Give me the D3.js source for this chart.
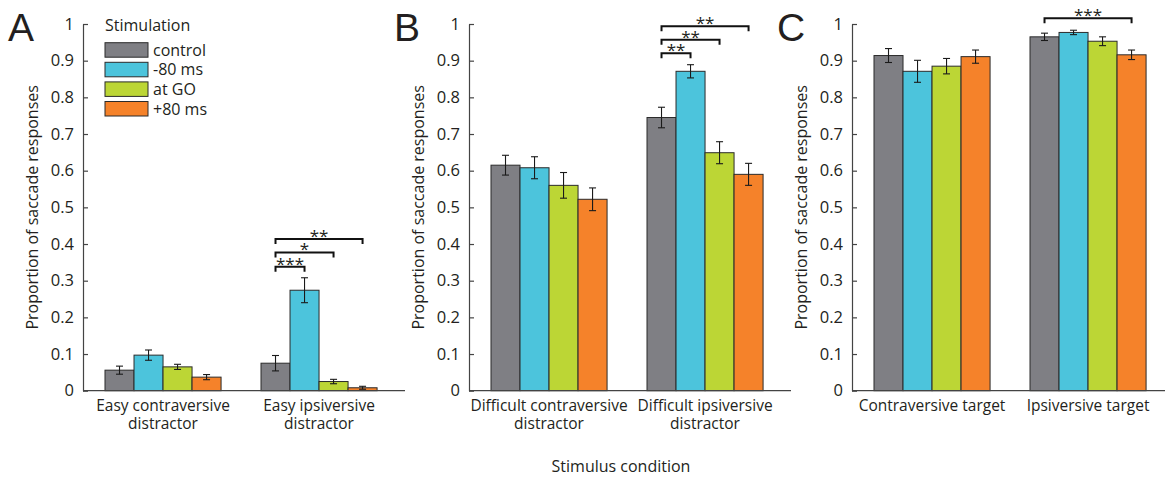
<!DOCTYPE html>
<html>
<head>
<meta charset="utf-8">
<script src="https://cdn.jsdelivr.net/npm/d3@7"></script>
<style>
  html, body { margin: 0; padding: 0; background: #fff; }
  svg { display: block; }
  text { font-family: "Open Sans", "Noto Sans", sans-serif; fill: #231f20; }
</style>
</head>
<body>
<svg id="chart" width="1165" height="478"></svg>
<script>
// Stimulation conditions and their fill colours
const series = ["control", "-80 ms", "at GO", "+80 ms"];
const seriesColors = ["#7f7f84", "#4cc4dc", "#bcd635", "#f5822a"];

// Panel A: easy distractor trials
const catsA = [["Easy contraversive", "distractor"], ["Easy ipsiversive", "distractor"]];
const meansA = [[0.056, 0.097, 0.065, 0.037], [0.075, 0.274, 0.025, 0.008]];
const errsA  = [[0.011, 0.014, 0.007, 0.007], [0.021, 0.034, 0.006, 0.004]];
const sigA   = [{g: 1, from: 0, to: 1, y: 0.338, label: "***"},
                {g: 1, from: 0, to: 2, y: 0.377, label: "*"},
                {g: 1, from: 0, to: 3, y: 0.414, label: "**"}];

// Panel B: difficult distractor trials
const catsB = [["Difficult contraversive", "distractor"], ["Difficult ipsiversive", "distractor"]];
const meansB = [[0.615, 0.608, 0.560, 0.522], [0.745, 0.871, 0.649, 0.590]];
const errsB  = [[0.027, 0.030, 0.035, 0.031], [0.028, 0.018, 0.030, 0.030]];
const sigB   = [{g: 1, from: 0, to: 1, y: 0.920, label: "**"},
                {g: 1, from: 0, to: 2, y: 0.957, label: "**"},
                {g: 1, from: 0, to: 3, y: 0.994, label: "**"}];

// Panel C: target-only trials
const catsC = [["Contraversive target"], ["Ipsiversive target"]];
const meansC = [[0.914, 0.871, 0.885, 0.911], [0.965, 0.977, 0.953, 0.916]];
const errsC  = [[0.019, 0.030, 0.021, 0.018], [0.010, 0.006, 0.012, 0.013]];
const sigC   = [{g: 1, from: 0, to: 3, y: 1.016, label: "***"}];

// Y-axis ticks and labels
const yTicks = [0, 0.1, 0.2, 0.3, 0.4, 0.5, 0.6, 0.7, 0.8, 0.9, 1];
const yTickLabels = ["0", "0.1", "0.2", "0.3", "0.4", "0.5", "0.6", "0.7", "0.8", "0.9", "1"];

const yTitle = "Proportion of saccade responses";
const xTitle = "Stimulus condition";
const legendTitle = "Stimulation";

const panels = [
  {letter: "A", left: 83,  cats: catsA, means: meansA, errs: errsA, sig: sigA, legend: true},
  {letter: "B", left: 469, cats: catsB, means: meansB, errs: errsB, sig: sigB},
  {letter: "C", left: 852, cats: catsC, means: meansC, errs: errsC, sig: sigC}
];

const svg = d3.select("#chart");
const axisLen = 322;
const y = d3.scaleLinear().domain([0, 1]).range([390.7, 24]);
const ink = "#231f20";

panels.forEach(p => {
  const g = svg.append("g");
  // group positions 1 and 2 on a numeric x axis
  const x = d3.scaleLinear().domain([0.487, 2.551]).range([p.left, p.left + axisLen]);
  const unit = x(2) - x(1);
  const inner = d3.scaleBand().domain(d3.range(series.length))
    .range([-0.372 * unit, 0.372 * unit]).paddingInner(0).paddingOuter(0);
  const bw = inner.bandwidth();
  const barX = (gi, si) => x(gi + 1) + inner(si);
  const barC = (gi, si) => barX(gi, si) + bw / 2;

  // bars
  p.means.forEach((vals, gi) => {
    g.selectAll(null).data(vals).join("rect")
      .attr("x", (d, si) => barX(gi, si))
      .attr("y", d => y(d))
      .attr("width", bw)
      .attr("height", d => y(0) - y(d))
      .attr("fill", (d, si) => seriesColors[si])
      .attr("stroke", "#2b2b2b")
      .attr("stroke-width", 1);
  });

  // error bars
  p.means.forEach((vals, gi) => {
    vals.forEach((v, si) => {
      const e = p.errs[gi][si];
      const cx = barC(gi, si);
      const eg = g.append("g").attr("stroke", "#1a1a1a").attr("stroke-width", 1.1);
      eg.append("line").attr("x1", cx).attr("x2", cx).attr("y1", y(v - e)).attr("y2", y(v + e));
      eg.append("line").attr("x1", cx - 3.5).attr("x2", cx + 3.5).attr("y1", y(v - e)).attr("y2", y(v - e));
      eg.append("line").attr("x1", cx - 3.5).attr("x2", cx + 3.5).attr("y1", y(v + e)).attr("y2", y(v + e));
    });
  });

  // y axis with inward ticks
  const yAxis = d3.axisLeft(y).tickValues(yTicks)
    .tickFormat((d, i) => yTickLabels[i])
    .tickSizeInner(-5).tickSizeOuter(0).tickPadding(9);
  const ya = g.append("g").attr("transform", `translate(${p.left},0)`).call(yAxis);
  ya.select(".domain").attr("stroke", "#444").attr("stroke-width", 1.2);
  ya.selectAll(".tick line").attr("stroke", "#444").attr("stroke-width", 1.2);
  ya.selectAll(".tick text").attr("font-size", 16.5).attr("fill", ink)
    .style("font-family", '"Open Sans", sans-serif');

  // x axis line
  g.append("line")
    .attr("x1", p.left).attr("x2", p.left + axisLen)
    .attr("y1", y(0)).attr("y2", y(0))
    .attr("stroke", "#444").attr("stroke-width", 1.2);

  // category labels, one text per line
  p.cats.forEach((lines, gi) => {
    lines.forEach((ln, li) => {
      g.append("text").attr("text-anchor", "middle").attr("font-size", 15.5)
        .attr("x", x(gi + 1)).attr("y", 411 + li * 17.5).text(ln);
    });
  });

  // y title
  g.append("text")
    .attr("transform", `translate(${p.left - 45},${y(0.5)}) rotate(-90)`)
    .attr("text-anchor", "middle").attr("font-size", 16)
    .text(yTitle);

  // panel letter
  g.append("text")
    .attr("x", p.left - 75).attr("y", 41)
    .attr("font-size", 39)
    .style("font-family", '"Liberation Sans", Arial, sans-serif')
    .attr("fill", "#000")
    .text(p.letter);

  // significance brackets
  p.sig.forEach(s => {
    const x1 = barC(s.g, s.from), x2 = barC(s.g, s.to), yy = y(s.y);
    g.append("path")
      .attr("d", `M${x1},${yy + 5}V${yy}H${x2}V${yy + 5}`)
      .attr("fill", "none").attr("stroke", "#111").attr("stroke-width", 2);
    g.append("text")
      .attr("x", (x1 + x2) / 2).attr("y", yy + 3)
      .attr("text-anchor", "middle").attr("font-size", 17).attr("fill", "#444")
      .text(s.label);
  });

  // legend
  if (p.legend) {
    const lx = 105, ly = 42.7;
    g.append("text").attr("x", lx).attr("y", 31).attr("font-size", 16).text(legendTitle);
    series.forEach((name, si) => {
      const rowY = ly + si * 19.6;
      g.append("rect").attr("x", lx).attr("y", rowY).attr("width", 43).attr("height", 14.5)
        .attr("fill", seriesColors[si]).attr("stroke", "#2b2b2b").attr("stroke-width", 1);
      g.append("text").attr("x", 153).attr("y", rowY + 13).attr("font-size", 16).text(name);
    });
  }
});

// shared x title
svg.append("text")
  .attr("x", 621).attr("y", 472)
  .attr("text-anchor", "middle").attr("font-size", 16)
  .text(xTitle);
</script>
</body>
</html>
